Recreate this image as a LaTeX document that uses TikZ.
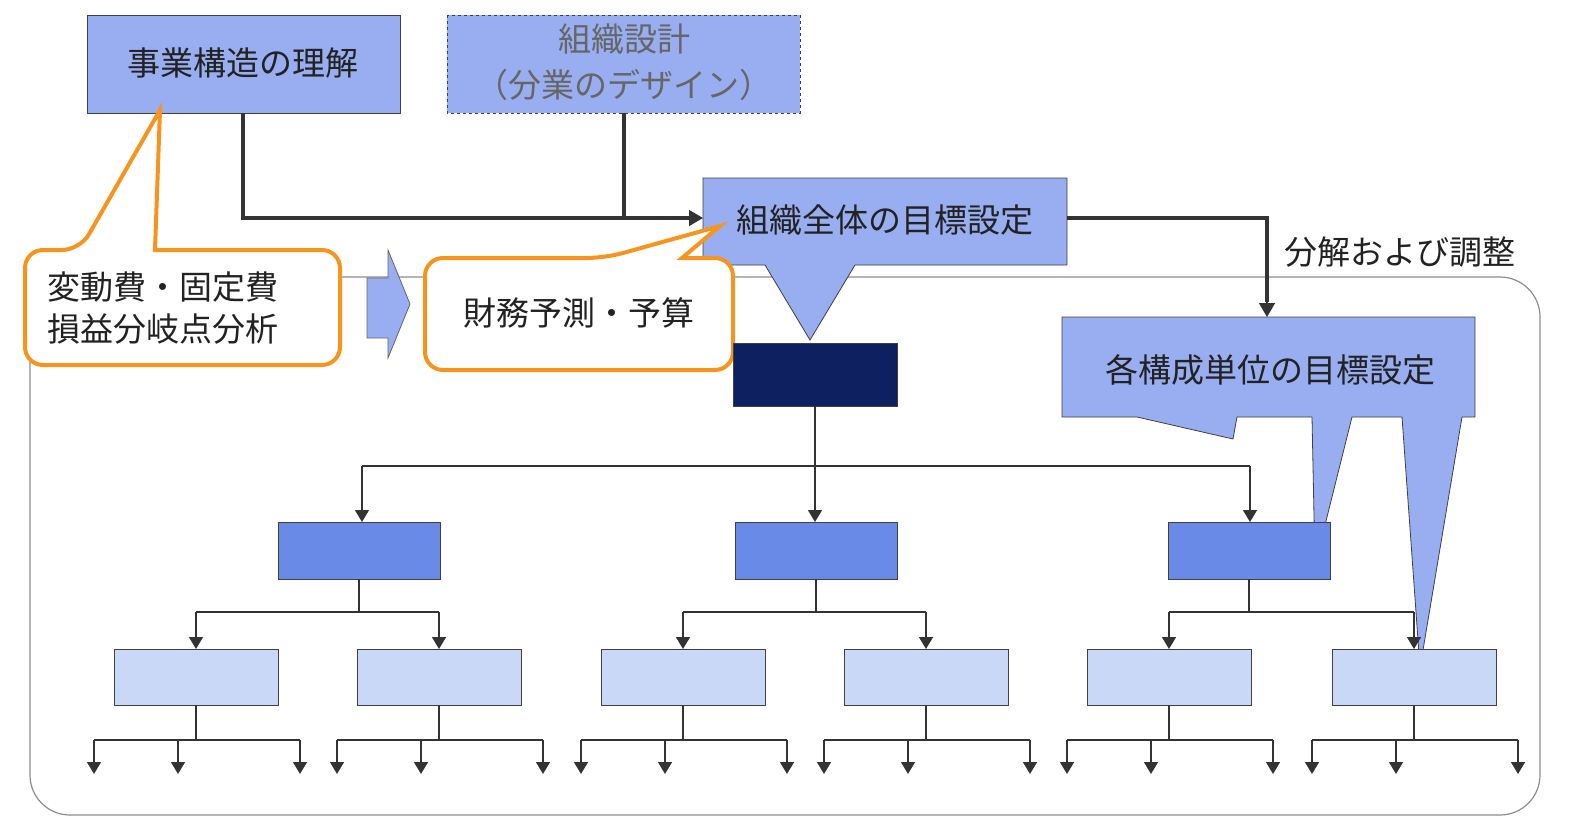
\documentclass[tikz,border=0pt]{standalone}
\usepackage{fontspec}
\setmainfont{Noto Sans CJK JP}
\usetikzlibrary{arrows.meta}
\definecolor{boxA}{HTML}{98AEF0}
\definecolor{mid}{HTML}{6A8AE8}
\definecolor{lite}{HTML}{CAD8F8}
\definecolor{dark}{HTML}{0F2060}
\definecolor{orng}{HTML}{F7941D}
\definecolor{txt}{HTML}{222222}
\tikzset{
 bx/.style={draw=black!75,line width=0.8pt},
 lbl/.style={text=txt,font=\fontsize{33}{40}\selectfont,inner sep=0pt},
 con/.style={draw=black!80,line width=1.5pt,-{Triangle[length=12pt,width=14pt]}},
 thick con/.style={draw=black!80,line width=4pt},
 ocal/.style={draw=orng,line width=4pt,fill=white,rounded corners=18pt},
}
\begin{document}
\begin{tikzpicture}[x=1pt,y=-1pt]
\useasboundingbox (0,0) rectangle (1575,835);
% big frame
\draw[black!45,line width=1.2pt,rounded corners=40pt] (30,277) rectangle (1540,815);
% top boxes
\draw[bx,fill=boxA] (87,15) rectangle (400,113);
\node[lbl] (A) at (243,63) {事業構造の理解};
\draw[bx,fill=boxA,dashed] (447,15) rectangle (800,113);
\node[lbl,text=black!60,align=center,font=\fontsize{33}{46}\selectfont] (B) at (624,62) {組織設計\\（分業のデザイン）};
% callout C
\draw[bx,fill=boxA] (703,178) -- (1067,178) -- (1067,265) -- (855,265) -- (810,340) -- (765,265) -- (703,265) -- cycle;
\node[lbl] (C) at (885,220) {組織全体の目標設定};
\coordinate (Cin) at (703,218);
\draw[thick con] (243,113) -- (243,218) -- (690,218);
\draw[thick con] (624,113) -- (624,218);
\draw[draw=black!80,line width=1.5pt,-{Triangle[length=14pt,width=16pt]}] (620,218) -- (Cin);
\draw[thick con] (1067,218) -- (1267,218) -- (1267,302);
\draw[draw=black!80,line width=1.5pt,-{Triangle[length=14pt,width=16pt]}] (1267,298) -- (1267,317);
\node[lbl,anchor=west] (L) at (1284,252) {分解および調整};
% callout D
\draw[bx,fill=boxA] (1062,317) -- (1475,317) -- (1475,417) -- (1462,417) -- (1420,668) -- (1402,417) -- (1352,417) -- (1315,565) -- (1312,417) -- (1237,417) -- (1233,439) -- (1137,417) -- (1062,417) -- cycle;
\node[lbl] (D) at (1270,370) {各構成単位の目標設定};
% block arrow
\draw[bx,draw=black!60,fill=boxA] (367,278) -- (388,278) -- (388,250) -- (410,304) -- (388,358) -- (388,338) -- (367,338) -- cycle;
% orange callouts
\draw[ocal] (25,250) -- (80,250) [sharp corners]-- (160,110) -- (155,250) [rounded corners=18pt]-- (340,250) -- (340,365) -- (25,365) -- cycle;
\node[lbl,align=left,anchor=west,font=\fontsize{33}{42}\selectfont] (O1) at (47,308) {変動費・固定費\\損益分岐点分析};
\draw[ocal] (425,258) -- (605,258) [sharp corners]-- (720,226) -- (682,258) [rounded corners=18pt]-- (733,258) -- (733,370) -- (425,370) -- cycle;
\node[lbl] (O2) at (579,313) {財務予測・予算};
% tree
\draw[bx,fill=dark] (733,343) rectangle (897,406);
\coordinate (root) at (815,406);
\foreach \x/\n in {359/m1,816/m2,1249/m3}{
  \draw[bx,fill=mid] (\x-81,522) rectangle (\x+81,579);
  \coordinate (\n) at (\x,522);
}
\draw[black!80,line width=2.5pt] (root) -- (815,466);
\draw[black!80,line width=1.5pt] (362,466) -- (1250,466);
\foreach \x in {362,815,1250}{\draw[con] (\x,466) -- (\x,522);}
\foreach \p/\a/\b in {359/196/439,816/683/926,1249/1169/1414}{
  \draw[black!80,line width=1.5pt] (\p,579) -- (\p,612) (\a,612) -- (\b,612);
  \draw[con] (\a,612) -- (\a,649);
  \draw[con] (\b,612) -- (\b,649);
}
\foreach \x in {196,439,683,926,1169,1414}{
  \draw[bx,fill=lite] (\x-82,649) rectangle (\x+82,705);
  \draw[black!80,line width=1.5pt] (\x,705) -- (\x,740) (\x-102,740) -- (\x+104,740);
  \foreach \d in {-102,-18,104}{\draw[con] (\x+\d,740) -- (\x+\d,774);}
}
% redraw D pointer tip over light box
\end{tikzpicture}
\end{document}
